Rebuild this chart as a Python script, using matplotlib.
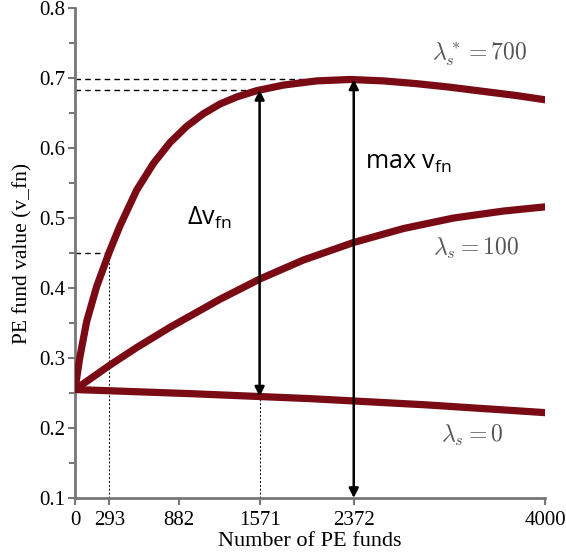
import numpy as np
import matplotlib
matplotlib.use('Agg')
import matplotlib.pyplot as plt

# valores
x_700 = [0, 40, 99, 184, 293, 383, 525, 667, 809, 950, 1092, 1234, 1376, 1546,
         1773, 2057, 2340, 2624, 2908, 3191, 3475, 3759, 4000]
v_700 = [0.255, 0.300, 0.352, 0.402, 0.452, 0.489, 0.540, 0.578, 0.608, 0.631,
         0.649, 0.663, 0.673, 0.682, 0.690, 0.696, 0.698, 0.696, 0.692, 0.687,
         0.681, 0.675, 0.669]
x_100 = [0, 128, 298, 525, 809, 1234, 1574, 1943, 2369, 2794, 3220, 3645, 4000]
v_100 = [0.255, 0.270, 0.290, 0.315, 0.344, 0.384, 0.413, 0.440, 0.465, 0.485,
         0.500, 0.510, 0.516]
x_0 = [0, 1000, 2000, 3000, 4000]
v_0 = [0.255, 0.249, 0.242, 0.233, 0.222]

xticks = [0, 293, 882, 1571, 2372, 4000]
yticks = [0.1, 0.2, 0.3, 0.4, 0.5, 0.6, 0.7, 0.8]

n_sat, v_sat = 293, 0.45
n_delta, v_delta_lo, v_delta_hi = 1571, 0.245, 0.683
n_max, v_max = 2372, 0.698

color_linea = '#7a0a14'
gris = '#777777'

plt.rcParams['font.family'] = 'Liberation Serif'

fig = plt.figure(figsize=(5.66, 5.58), dpi=100)
ax = fig.add_axes([0.1325, 0.1075, 0.8305, 0.878])

for xs, vs in [(x_700, v_700), (x_100, v_100), (x_0, v_0)]:
    ax.plot(xs, vs, color=color_linea, lw=5.2, solid_capstyle='round',
            solid_joinstyle='round', zorder=3)

# lineas de referencia
ax.plot([0, n_max], [v_max, v_max], color='black', lw=1, ls=(0, (4, 3)))
ax.plot([0, n_delta], [v_delta_hi, v_delta_hi], color='black', lw=1, ls=(0, (4, 3)))
ax.plot([0, n_sat], [v_sat, v_sat], color='black', lw=1, ls=(0, (4, 3)))
ax.plot([n_sat, n_sat], [0.1, v_sat], color='black', lw=0.7, ls=(0, (2, 2)))
ax.plot([n_delta, n_delta], [0.1, v_delta_lo], color='black', lw=0.7, ls=(0, (2, 2)))

# flechas
ax.annotate('', xy=(n_delta, v_delta_hi), xytext=(n_delta, v_delta_lo),
            arrowprops=dict(arrowstyle='<|-|>', color='black', lw=1.8,
                            mutation_scale=14, shrinkA=0, shrinkB=0), zorder=4)
ax.annotate('', xy=(n_max, v_max), xytext=(n_max, 0.1),
            arrowprops=dict(arrowstyle='<|-|>', color='black', lw=1.8,
                            mutation_scale=14, shrinkA=0, shrinkB=0), zorder=4)

ax.text(953, 0.50, 'Δv$_{\\mathregular{fn}}$', fontsize=18, family='Open Sans',
        ha='left', va='center')
ax.text(2468, 0.58, 'max v$_{\\mathregular{fn}}$', fontsize=18, family='Open Sans',
        ha='left', va='center')

ax.text(3447, 0.733, r'$\lambda_s^* = 700$', fontsize=17, color='#555555',
        ha='center', va='center', math_fontfamily='cm')
ax.text(3413, 0.457, r'$\lambda_s = 100$', fontsize=17, color='#555555',
        ha='center', va='center', math_fontfamily='cm')
ax.text(3379, 0.19, r'$\lambda_s = 0$', fontsize=17, color='#555555',
        ha='center', va='center', math_fontfamily='cm')

ax.set_xlim(0, 4000)
ax.set_ylim(0.1, 0.8)
ax.set_xticks(xticks)
ax.set_xticklabels([str(t) for t in xticks])
ax.set_yticks(yticks)
ax.set_yticklabels(['%.1f' % t for t in yticks])
ax.set_yticks(np.arange(0.15, 0.8, 0.1), minor=True)

for s in ['top', 'right']:
    ax.spines[s].set_visible(False)
for s in ['left', 'bottom']:
    ax.spines[s].set_color(gris)
    ax.spines[s].set_linewidth(2)

ax.tick_params(which='major', direction='out', length=5, width=1.5, color=gris,
               labelsize=15, pad=2)
ax.tick_params(which='minor', direction='out', length=4, width=1.5, color=gris)
ax.tick_params(axis='x', labelsize=15, pad=4)

ax.set_xlabel('Number of PE funds', fontsize=16, labelpad=2)
ax.set_ylabel('PE fund value (v_fn)', fontsize=15.5, labelpad=5)

fig.savefig('out.png', dpi=100)
